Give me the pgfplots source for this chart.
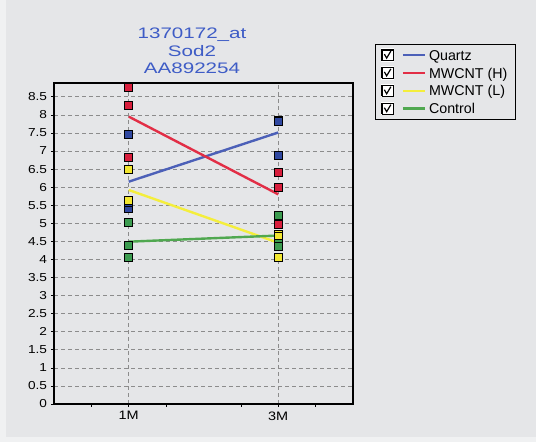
\documentclass[border=0pt]{standalone}
\usepackage{pgfplots}
\pgfplotsset{compat=1.18}
\usepackage{fontspec}
\setmainfont{Liberation Sans}
\newfontfamily\titlefont{Liberation Sans}[FakeStretch=1.35]
\newfontfamily\tickfont{Liberation Sans}[FakeStretch=1.18]

\definecolor{bgcol}{RGB}{229,230,232}
\definecolor{edgecol}{RGB}{240,241,242}
\definecolor{titleblue}{RGB}{62,92,198}
\definecolor{qline}{RGB}{76,96,184}
\definecolor{hline}{RGB}{226,46,70}
\definecolor{lline}{RGB}{244,238,60}
\definecolor{cline}{RGB}{80,168,80}
\definecolor{qmark}{RGB}{48,72,160}
\definecolor{hmark}{RGB}{216,30,60}
\definecolor{lmark}{RGB}{242,230,48}
\definecolor{cmark}{RGB}{60,156,80}
\definecolor{gridgray}{RGB}{140,140,140}

% group means at 1M (x=1) and 3M (x=3)
\pgfplotstableread{
x y
1 6.15
3 7.51
}\quartzmean
\pgfplotstableread{
x y
1 7.95
3 5.80
}\hmean
\pgfplotstableread{
x y
1 5.92
3 4.46
}\lmean
\pgfplotstableread{
x y
1 4.49
3 4.66
}\cmean

% individual samples
\pgfplotstableread{
x y
1 7.47
1 5.41
1 5.57
3 7.84
3 7.82
3 6.87
}\quartzpts
\pgfplotstableread{
x y
1 8.76
1 8.25
1 6.82
3 6.41
3 5.98
3 4.97
}\hpts
\pgfplotstableread{
x y
1 6.49
1 5.64
1 5.62
3 4.68
3 4.63
3 4.07
}\lpts
\pgfplotstableread{
x y
1 5.02
1 4.39
1 4.06
3 5.23
3 4.45
3 4.36
}\cpts

\begin{document}
\begin{tikzpicture}[x=1bp,y=1bp]
\fill[edgecol] (0,0) rectangle (536,442);
\fill[bgcol] (6,5) rectangle (536,442);
\useasboundingbox (0,0) rectangle (536,442);

\node[align=center, text=titleblue, font=\titlefont\fontsize{15.3}{17.7}\selectfont]
  at (192,391) {1370172\_at\\Sod2\\AA892254};

\begin{axis}[
  at={(54bp,38bp)}, anchor=south west,
  scale only axis, width=299bp, height=321bp,
  xmin=0, xmax=4, ymin=0, ymax=8.88,
  xtick={1,3}, xticklabels={1M,3M},
  minor xtick={0.5,1.5,2.5,3.5},
  ytick={0,0.5,...,8.5},
  /pgf/number format/assume math mode=true,
  tick align=outside,
  major tick length=3bp, minor tick length=3bp,
  xtick pos=bottom, ytick pos=left,
  tick style={black, line width=0.6bp},
  x tick label style={font=\tickfont\fontsize{12.3}{13}\selectfont, yshift=-1bp},
  y tick label style={font=\tickfont\fontsize{11.6}{12}\selectfont, xshift=-0.5bp},
  axis line style={black, line width=1.8bp},
  grid=major,
  major grid style={gridgray, dash pattern=on 4bp off 3bp, line width=0.6bp},
  minor grid style={draw=none},
  axis background/.style={fill=bgcol},
  legend style={
    at={(axis description cs:1.0736,1.1215)}, anchor=north west,
    draw=black, line width=1.3bp, fill=bgcol,
    font=\fontsize{14.3}{16}\selectfont,
    inner xsep=5bp, inner ysep=3.5bp,
    row sep=3.6bp,
    nodes={inner xsep=3bp, inner ysep=2bp, text depth=0pt},
  },
  legend cell align=left,
  legend image code/.code={
    \fill[white] (0bp,-5.5bp) rectangle (11bp,5.5bp);
    \draw[black, line width=0.6bp, solid] (0bp,-5.5bp) rectangle (11bp,5.5bp);
    \draw[black, line width=1.4bp, solid] (0.3bp,-5.5bp) -- (0.3bp,5.2bp) -- (11bp,5.2bp);
    \draw[black, line width=1.2bp, solid] (2.5bp,1bp) -- (4.8bp,-3bp) -- (9bp,4bp);
    \draw[#1, solid] (21bp,0bp) -- (43bp,0bp);
  },
]
\addplot[qline, line width=2.4bp, mark=none] table {\quartzmean};
\addlegendentry{Quartz}
\addplot[hline, line width=2.4bp, mark=none] table {\hmean};
\addlegendentry{MWCNT (H)\hspace{6bp}}
\addplot[lline, line width=2.4bp, mark=none] table {\lmean};
\addlegendentry{MWCNT (L)}
\addplot[cline, line width=2.4bp, mark=none] table {\cmean};
\addlegendentry{Control}

\addplot[only marks, mark=square*, mark size=4bp,
  mark options={fill=qmark, draw=black, line width=0.7bp}, forget plot] table {\quartzpts};
\addplot[only marks, mark=square*, mark size=4bp,
  mark options={fill=hmark, draw=black, line width=0.7bp}, forget plot] table {\hpts};
\addplot[only marks, mark=square*, mark size=4bp,
  mark options={fill=lmark, draw=black, line width=0.7bp}, forget plot] table {\lpts};
\addplot[only marks, mark=square*, mark size=4bp,
  mark options={fill=cmark, draw=black, line width=0.7bp}, forget plot] table {\cpts};
\end{axis}
\end{tikzpicture}
\end{document}
